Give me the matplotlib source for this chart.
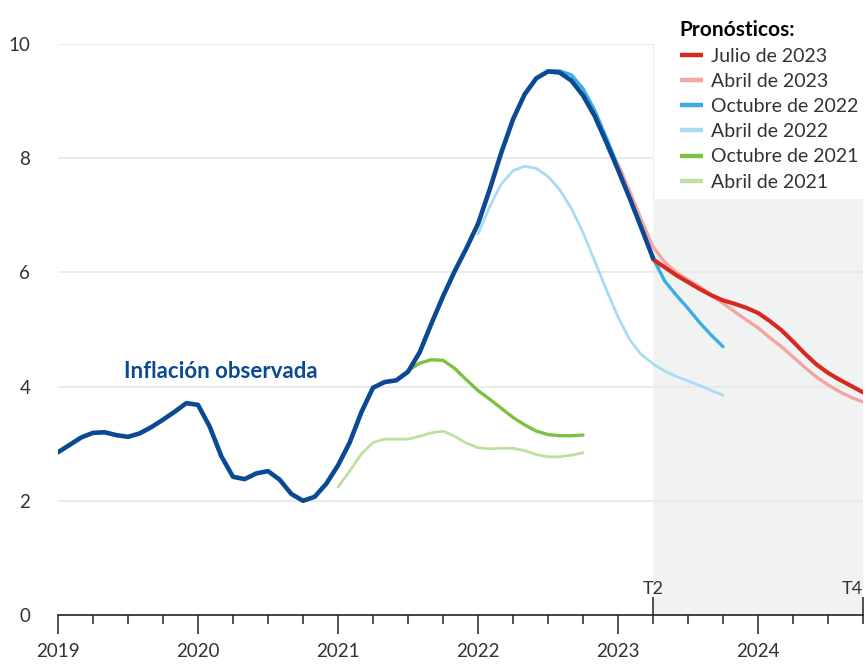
import numpy as np
import matplotlib
matplotlib.use("Agg")
from matplotlib import pyplot as plt
from matplotlib.ticker import MultipleLocator

plt.rcParams['font.family'] = ['Lato', 'DejaVu Sans']

# monthly values (series start year, values)
obs_start = 2019.0
observed = [2.85, 2.98, 3.11, 3.19, 3.20, 3.15, 3.12, 3.18, 3.29, 3.42, 3.56, 3.71,
            3.68, 3.30, 2.78, 2.42, 2.38, 2.48, 2.52, 2.37, 2.12, 2.00, 2.07, 2.30,
            2.62, 3.02, 3.55, 3.98, 4.08, 4.11, 4.26, 4.60, 5.10, 5.58, 6.02, 6.42,
            6.85, 7.45, 8.10, 8.68, 9.12, 9.40, 9.52, 9.50, 9.36, 9.10, 8.74, 8.28,
            7.80, 7.30, 6.78, 6.25]

abr21_start = 2021.0
abr21 = [2.24, 2.52, 2.82, 3.02, 3.08, 3.08, 3.08, 3.13, 3.19, 3.22, 3.13, 3.01,
         2.93, 2.91, 2.92, 2.92, 2.88, 2.81, 2.77, 2.77, 2.80, 2.84]

oct21_start = 2021.5
oct21 = [4.28, 4.41, 4.47, 4.46, 4.32, 4.12, 3.93, 3.78, 3.62, 3.46, 3.33, 3.22,
         3.16, 3.14, 3.14, 3.15]

abr22_start = 2022.0
abr22 = [6.67, 7.15, 7.55, 7.78, 7.86, 7.82, 7.68, 7.45, 7.12, 6.70, 6.20, 5.70,
         5.22, 4.82, 4.56, 4.40, 4.27, 4.18, 4.10, 4.02, 3.93, 3.85]

oct22_start = 2022.5
oct22 = [9.53, 9.53, 9.46, 9.22, 8.84, 8.36, 7.86, 7.34, 6.80, 6.25, 5.85, 5.60,
         5.37, 5.12, 4.90, 4.70]

abr23_start = 2023.0
abr23 = [7.90, 7.42, 6.92, 6.45, 6.18, 6.00, 5.87, 5.75, 5.60, 5.46, 5.31, 5.17,
         5.03, 4.86, 4.70, 4.52, 4.34, 4.17, 4.03, 3.91, 3.81, 3.73]

jul23_start = 2023.25
jul23 = [6.23, 6.09, 5.95, 5.83, 5.71, 5.60, 5.51, 5.45, 5.38, 5.29, 5.15, 4.99,
         4.79, 4.58, 4.39, 4.24, 4.12, 4.01, 3.90]

years = [2019, 2020, 2021, 2022, 2023, 2024]
forecast_span = (2023.25, 2024.75)
quarter_marks = [(2023.25, 'T2', 'center'), (2024.75, 'T4', 'right')]
legend_bottom = 7.28

C_OBS = '#0b4a93'
C_JUL23 = '#d7291f'
C_ABR23 = '#f3a5a2'
C_OCT22 = '#3aaee2'
C_ABR22 = '#a9dcf3'
C_OCT21 = '#7cc142'
C_ABR21 = '#bde0a0'
GRID = '#e8e8e8'


def xs(start, vals):
    return start + np.arange(len(vals)) / 12.0


fig = plt.figure(figsize=(8.67, 6.68), dpi=100)
ax = fig.add_axes([58 / 867, 1 - 615 / 668, 805 / 867, (615 - 44) / 668])
ax.set_xlim(2019, 2024.75)
ax.set_ylim(0, 10)

# shaded forecast area (legend box sits above it)
ax.fill_between(forecast_span, 0, legend_bottom, color='#f1f3f3', lw=0, zorder=0)

# gridlines, cut under the legend
for lv in [2, 4, 6, 8, 10]:
    right = forecast_span[0] if lv > legend_bottom else forecast_span[1]
    ax.hlines(lv, 2019, right, color=GRID, lw=1.2, zorder=0.5)
ax.vlines(forecast_span[0], legend_bottom, 10, color='#efefef', lw=1.0, zorder=0.5)

kw = dict(solid_capstyle='round', solid_joinstyle='round')
l6, = ax.plot(xs(abr21_start, abr21), abr21, color=C_ABR21, lw=2.0, zorder=2, **kw)
l5, = ax.plot(xs(oct21_start, oct21), oct21, color=C_OCT21, lw=2.4, zorder=2, **kw)
l4, = ax.plot(xs(abr22_start, abr22), abr22, color=C_ABR22, lw=2.0, zorder=2, **kw)
l3, = ax.plot(xs(oct22_start, oct22), oct22, color=C_OCT22, lw=2.4, zorder=2.5, **kw)
l2, = ax.plot(xs(abr23_start, abr23), abr23, color=C_ABR23, lw=2.4, zorder=2.6, **kw)
l1, = ax.plot(xs(jul23_start, jul23), jul23, color=C_JUL23, lw=3.0, zorder=3, **kw)
ax.plot(xs(obs_start, observed), observed, color=C_OBS, lw=3.3, zorder=4, **kw)

ax.text(2020.16, 4.26, 'Inflación observada', color=C_OBS, fontsize=16,
        fontweight='bold', ha='center', va='center')

# axes styling
for s in ['left', 'right', 'top']:
    ax.spines[s].set_visible(False)
ax.spines['bottom'].set_color('#222222')
ax.spines['bottom'].set_linewidth(1.2)

ax.set_yticks([0, 2, 4, 6, 8, 10])
ax.tick_params(axis='y', length=0, pad=20, labelsize=13.5, labelcolor='#333333')
ax.set_xticks(years)
ax.set_xticklabels([str(y) for y in years])
ax.xaxis.set_minor_locator(MultipleLocator(0.25))
ax.tick_params(axis='x', which='major', length=14, width=1.1, color='#222222',
               pad=6, labelsize=13.5, labelcolor='#333333')
ax.tick_params(axis='x', which='minor', length=6.5, width=1.1, color='#222222')

for xq, lab, ha in quarter_marks:
    ax.vlines(xq, 0, 0.32, color='#222222', lw=1.1, clip_on=False, zorder=5)
    ax.text(xq, 0.46, lab, ha=ha, va='center', fontsize=13,
            color='#333333', clip_on=False)

leg = fig.legend([l1, l2, l3, l4, l5, l6],
                 ['Julio de 2023', 'Abril de 2023', 'Octubre de 2022',
                  'Abril de 2022', 'Octubre de 2021', 'Abril de 2021'],
                 title='Pronósticos:', loc='upper left',
                 bbox_to_anchor=(666 / 867, 1 - 6 / 668),
                 frameon=False, fontsize=14, handlelength=1.2,
                 handletextpad=0.4, labelspacing=0.42, borderpad=0.2,
                 alignment='left')
leg.get_title().set_fontweight('bold')
leg.get_title().set_fontsize(15)
for t in leg.get_texts():
    t.set_color('#333333')
for h in leg.legend_handles:
    h.set_linewidth(3.2)
    h.set_solid_capstyle('butt')

fig.savefig('out.png', dpi=100)
